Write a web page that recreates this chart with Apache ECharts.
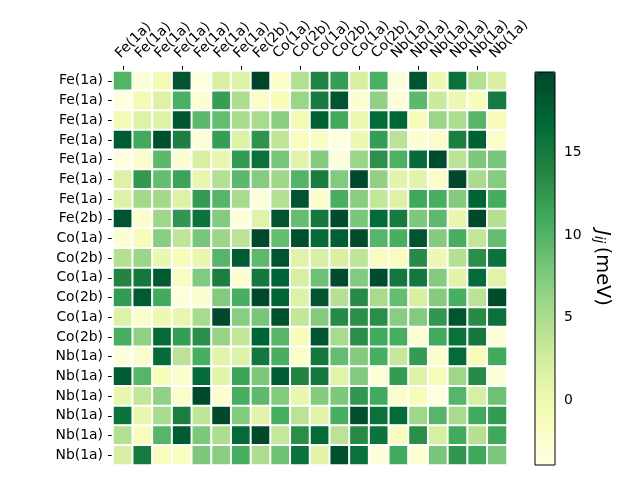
<!DOCTYPE html>
<html><head><meta charset="utf-8">
<script src="https://cdn.jsdelivr.net/npm/echarts@6/dist/echarts.min.js"></script>
<style>html,body{margin:0;padding:0;background:#fff}#c{width:640px;height:480px}</style>
</head><body><div id="c"></div>
<script>
const xLabels = ['Fe(1a)','Fe(1a)','Fe(1a)','Fe(1a)','Fe(1a)','Fe(1a)','Fe(1a)','Fe(2b)','Co(1a)','Co(2b)','Co(1a)','Co(2b)','Co(1a)','Co(2b)','Nb(1a)','Nb(1a)','Nb(1a)','Nb(1a)','Nb(1a)','Nb(1a)'];
const yLabels = ['Fe(1a)','Fe(1a)','Fe(1a)','Fe(1a)','Fe(1a)','Fe(1a)','Fe(1a)','Fe(2b)','Co(1a)','Co(2b)','Co(1a)','Co(2b)','Co(1a)','Co(2b)','Nb(1a)','Nb(1a)','Nb(1a)','Nb(1a)','Nb(1a)','Nb(1a)'];
const values = [
 [10,-3,-0.5,18.5,-3.5,2,1.5,19.9,-2,4.5, 14,12,2,10.5,-3,18.5,0,16,4.5,2],
 [-3.5,-0.5,1.5,10.5,-2.5,12,5,-2,-1,6, 15,18.5,-2.5,6.5,-3,9.5,3,0,-1,15],
 [-0.5,1.5,1.5,18.5,9.5,9,5.3,5.3,7,-0.5, 17.5,11,0,16.5,17,-1,6,5,9.8,-1],
 [18,11,19,14.5,-3,12,1.5,12.8,3.8,-1.3, -1.5,-3.5,0,12,4,-2.5,-2,14.5,17.5,-2],
 [-3.5,-2.2,9.5,-2.5,2,0.3,12.2,16,8,1, 7.3,-3.3,6,13,10.3,16.5,19.3,4,7.7,8],
 [1.5,12.3,9,11.5,0.5,4.5,9.5,7.2,5.8,10, 14.7,7.4,19.5,6.5,1,1,-2,19.5,5.3,7.2],
 [1.6,5.5,5.5,1.6,12.2,9.8,5.2,-3,4.4,18.5, -2.3,10.6,7,3.5,1.5,11.2,10.6,7.3,17.2,10.7],
 [18.5,-2.3,5.8,12.5,15.8,7.3,-3.2,1.2,18.5,9, 15.3,19.3,7.8,16.6,15,7.7,9.4,0.5,19.5,4.5],
 [-2.6,-1,7,3.8,8,6,4,19.5,9,19, 16.6,17.6,19.3,9.8,10.6,18.5,7.3,10.6,3.5,9],
 [4.5,6,0.3,-1,0.5,9.8,18,9.4,18.5,1.2, 2.2,2,3.8,-1.3,-1.3,13.5,0,4.4,13.2,15.8],
 [14,15.2,18,-1.3,7.4,14.6,-2.3,15.3,17.2,2.2, 8.5,19.3,7.4,19.3,15.3,15.3,7.3,1,16.7,1],
 [12.2,18,11,-3.3,-2.3,7.4,10.6,19.5,17.2,1.5, 18.5,4.4,13.5,5.3,9,2,7.3,10.6,4,19.3],
 [1.5,-2.2,0,0.4,5.3,19.5,7,8,19,3.5, 7.3,13.5,13.2,13.2,7,7.4,12.5,18.5,13.5,16],
 [10.6,6.5,16.6,12,13.2,6.2,3.5,17.2,9.8,-1, 18.5,5.3,13.2,11,10.6,-2.8,11,16,15.3,-3],
 [-3.3,-2.3,16.7,4,10.6,1,1.5,15.2,10.6,-2, 15.3,9,7.4,10.6,3.3,12.2,-2.3,16.7,-1,11],
 [18,9.8,-1,-2.3,16.5,1,11.5,7.7,18,14, 15.3,1.2,7.4,-2.8,12.2,1.5,-1,5.8,13.5,-3],
 [0.5,3.5,6.5,-2,19.5,-2.3,10.6,9.4,7.4,0.5, 7.3,7.7,12.5,11,-2.3,-1,-3.5,9.8,2.2,8.5],
 [15.8,0.5,5.3,14.6,3.8,19.5,7.4,1,10.6,4, 1,10.6,19,16,16.7,5.8,9.8,5.3,11,12.2],
 [4.5,-1.3,9.8,18,7.7,5,16.7,19.5,3.3,13.2, 16.7,4,13.5,15.8,-1.3,13.2,2.2,11,4.4,11.2],
 [2.2,15,-1.3,-1.5,7.7,7,10.6,5,8.5,15.8, 1,19,16,-3.3,11,-2.8,8,12.5,11.2,7.7]
];
const cbarTicks = [0,5,10,15];
const vMin = -3.95, vMax = 19.9;
const ylgn = ['#ffffe5','#f7fcb9','#d9f0a3','#addd8e','#78c679','#41ab5d','#238443','#006837','#004529'];

const data = [];
values.forEach((row, r) => row.forEach((v, c) => data.push([c, r, v])));

const font = 'DejaVu Sans';
const gridTop = 71;
const chart = echarts.init(document.getElementById('c'));
chart.setOption({
  animation: false,
  backgroundColor: '#fff',
  grid: [
    {left:113, top:gridTop, width:394, height:394},
    {left:535, top:72, width:20, height:393, show:true, borderColor:'#000', borderWidth:1, backgroundColor:'transparent', z:10}
  ],
  xAxis: [
    {type:'category', data:xLabels, position:'top', gridIndex:0,
     axisLine:{show:false}, splitLine:{show:false},
     axisTick:{show:true, length:5, alignWithLabel:true, lineStyle:{color:'#000'}},
     axisLabel:{show:false}},
    {type:'value', gridIndex:1, show:false, min:0, max:1}
  ],
  yAxis: [
    {type:'category', data:yLabels, inverse:true, gridIndex:0,
     axisLine:{show:false}, splitLine:{show:false},
     axisTick:{show:true, length:5, alignWithLabel:true, lineStyle:{color:'#000'}},
     axisLabel:{interval:0, margin:10, color:'#000', fontFamily:font, fontSize:13.9}},
    {type:'value', gridIndex:1, position:'right', min:vMin, max:vMax,
     axisLine:{show:false}, splitLine:{show:false},
     axisTick:{show:true, length:5, customValues:cbarTicks, lineStyle:{color:'#000'}},
     axisLabel:{customValues:cbarTicks, margin:9, color:'#000', fontFamily:font, fontSize:13.9}}
  ],
  visualMap: {
    type:'continuous', min:vMin, max:vMax, dimension:2, seriesIndex:0,
    orient:'vertical', left:535, top:72, itemWidth:20, itemHeight:393, padding:0,
    calculable:false, text:null, showLabel:false, hoverLink:false,
    inRange:{color:ylgn}
  },
  series: [{
    type:'heatmap', data:data, xAxisIndex:0, yAxisIndex:0,
    itemStyle:{borderColor:'#fff', borderWidth:2},
    emphasis:{disabled:true}
  }]
});

const topLabels = xLabels.map((lab, i) => {
  const px = chart.convertToPixel({xAxisIndex:0}, i);
  return {
    type:'text', x:px, y:gridTop - 10, rotation:Math.PI/4,
    style:{text:lab, fontFamily:font, fontSize:13.9, fill:'#000', align:'left', verticalAlign:'bottom'}
  };
});

chart.setOption({
  graphic: topLabels.concat([{
    type:'text', x:602, y:268, rotation:-Math.PI/2,
    style:{
      text:'{j|J}{s|ij} {n|(meV)}',
      align:'center', verticalAlign:'middle',
      rich:{
        j:{fontFamily:font, fontSize:19.4, fontStyle:'italic', fill:'#000'},
        s:{fontFamily:font, fontSize:13.6, fontStyle:'italic', fill:'#000', verticalAlign:'bottom', padding:[6,0,0,0]},
        n:{fontFamily:font, fontSize:19.4, fill:'#000'}
      }
    }
  }])
});
</script></body></html>
